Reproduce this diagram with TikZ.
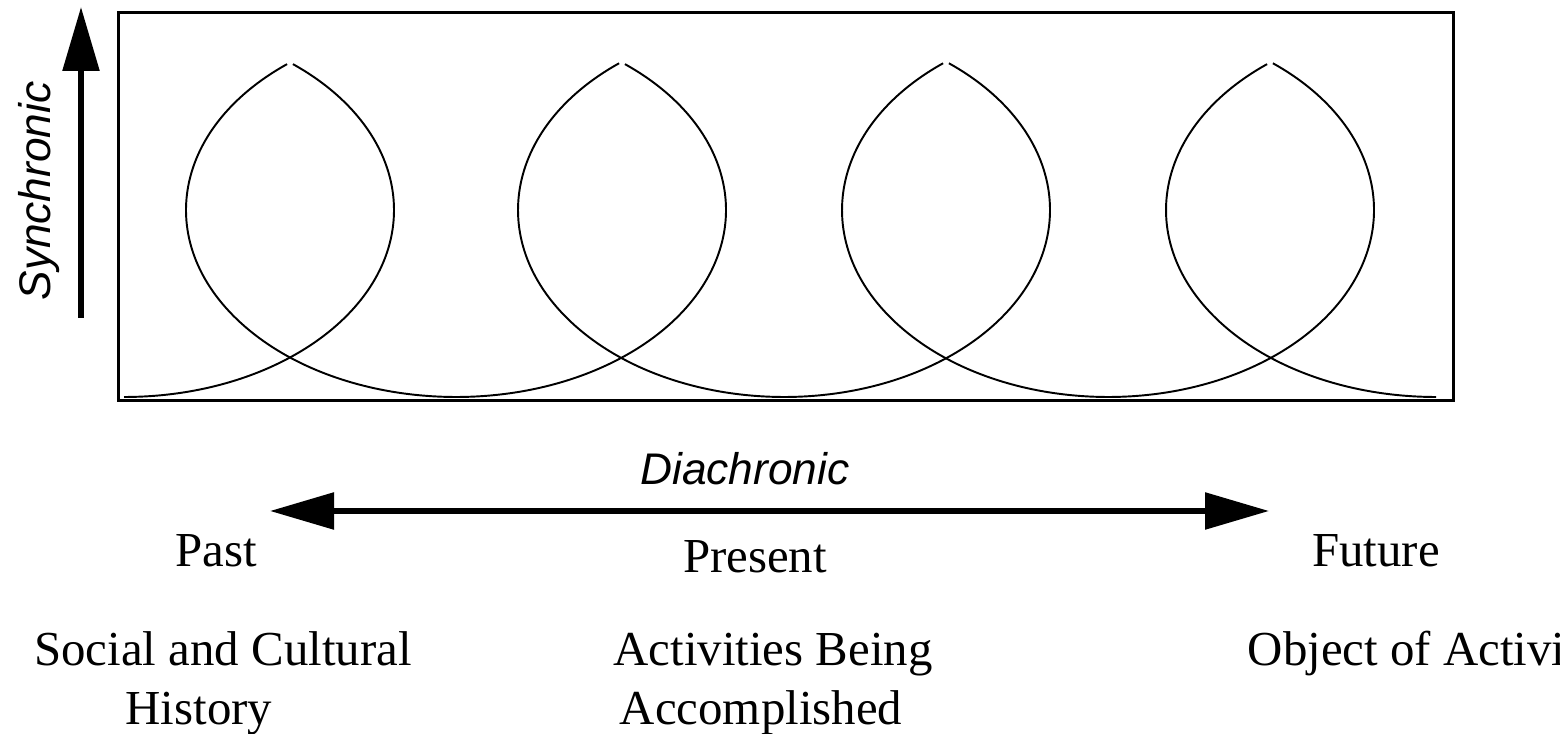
\documentclass[tikz,border=0pt]{standalone}
\usepackage{fontspec}
\setmainfont{Liberation Serif}
\newfontfamily\axisfont{Liberation Sans}
\usetikzlibrary{arrows.meta}

\begin{document}
\begin{tikzpicture}[
    every node/.style={font=\fontsize{13.9}{16}\selectfont, inner sep=0pt},
    axis/.style={font=\axisfont\itshape\fontsize{12.6}{15}\selectfont},
    frame/.style={draw, line width=0.8pt},
    lobe/.style={draw, line width=0.55pt},
    tip/.style={Triangle[length=6.4mm, width=3.6mm]},
    arr/.style={line width=1.6pt, -{Triangle[length=6.4mm, width=3.6mm]}},
    darr/.style={line width=1.6pt, {Triangle[length=6.4mm, width=3.6mm]}-{Triangle[length=6.4mm, width=3.6mm]}},
]
    \useasboundingbox (0,0) rectangle (15.60,7.34);

    % frame
    \node[frame, anchor=south west, minimum width=13.35cm, minimum height=3.88cm] (box) at (1.17,3.32) {};

    % overlapping half ellipses
    \foreach \cx/\hw in {4.56/1.66, 7.84/1.62, 11.08/1.62}{
        \pgfmathsetmacro\ra{\hw+1.04}
        \pgfmathsetmacro\ts{180-acos(\hw/\ra)+0.8}
        \pgfmathsetmacro\te{360+acos(\hw/\ra)-0.8}
        \draw[lobe] (\cx,5.24) ++(\ts:\ra cm and 1.87cm)
            arc[start angle=\ts, end angle=\te, x radius=\ra cm, y radius=1.87cm];
    }
    \pgfmathsetmacro\tq{acos(1.66/2.70)-0.8}
    \draw[lobe] (1.24,5.24) ++(-90:2.70cm and 1.87cm)
        arc[start angle=-90, end angle=\tq, x radius=2.70cm, y radius=1.87cm];
    \draw[lobe] (14.36,5.24) ++(180-\tq:2.70cm and 1.87cm)
        arc[start angle=180-\tq, end angle=270, x radius=2.70cm, y radius=1.87cm];

    % synchronic axis
    \coordinate (sbot) at (0.81,4.16);
    \coordinate (stop) at (0.81,7.27);
    \draw[arr] (sbot) -- (stop);
    \node[axis, rotate=90, anchor=base] (sync) at (0.50,5.43) {Synchronic};

    % diachronic axis
    \coordinate (dleft) at (2.70,2.23);
    \coordinate (dright) at (12.69,2.23);
    \draw[darr] (dleft) -- (dright);
    \node[axis, anchor=base] (dia) at (7.45,2.49) {Diachronic};

    % labels
    \node[anchor=base] (past) at (2.16,1.67) {Past};
    \node[anchor=base] (present) at (7.55,1.61) {Present};
    \node[anchor=base] (future) at (13.76,1.67) {Future};

    \node[anchor=base] (social) at (2.23,0.68) {Social and Cultural};
    \node[anchor=base] (history) at (1.99,0.09) {History};
    \node[anchor=base] (acts) at (7.73,0.68) {Activities Being};
    \node[anchor=base] (accomp) at (7.61,0.09) {Accomplished};
    \node[anchor=base west] (object) at (12.47,0.68) {Object of Activi};
\end{tikzpicture}
\end{document}
